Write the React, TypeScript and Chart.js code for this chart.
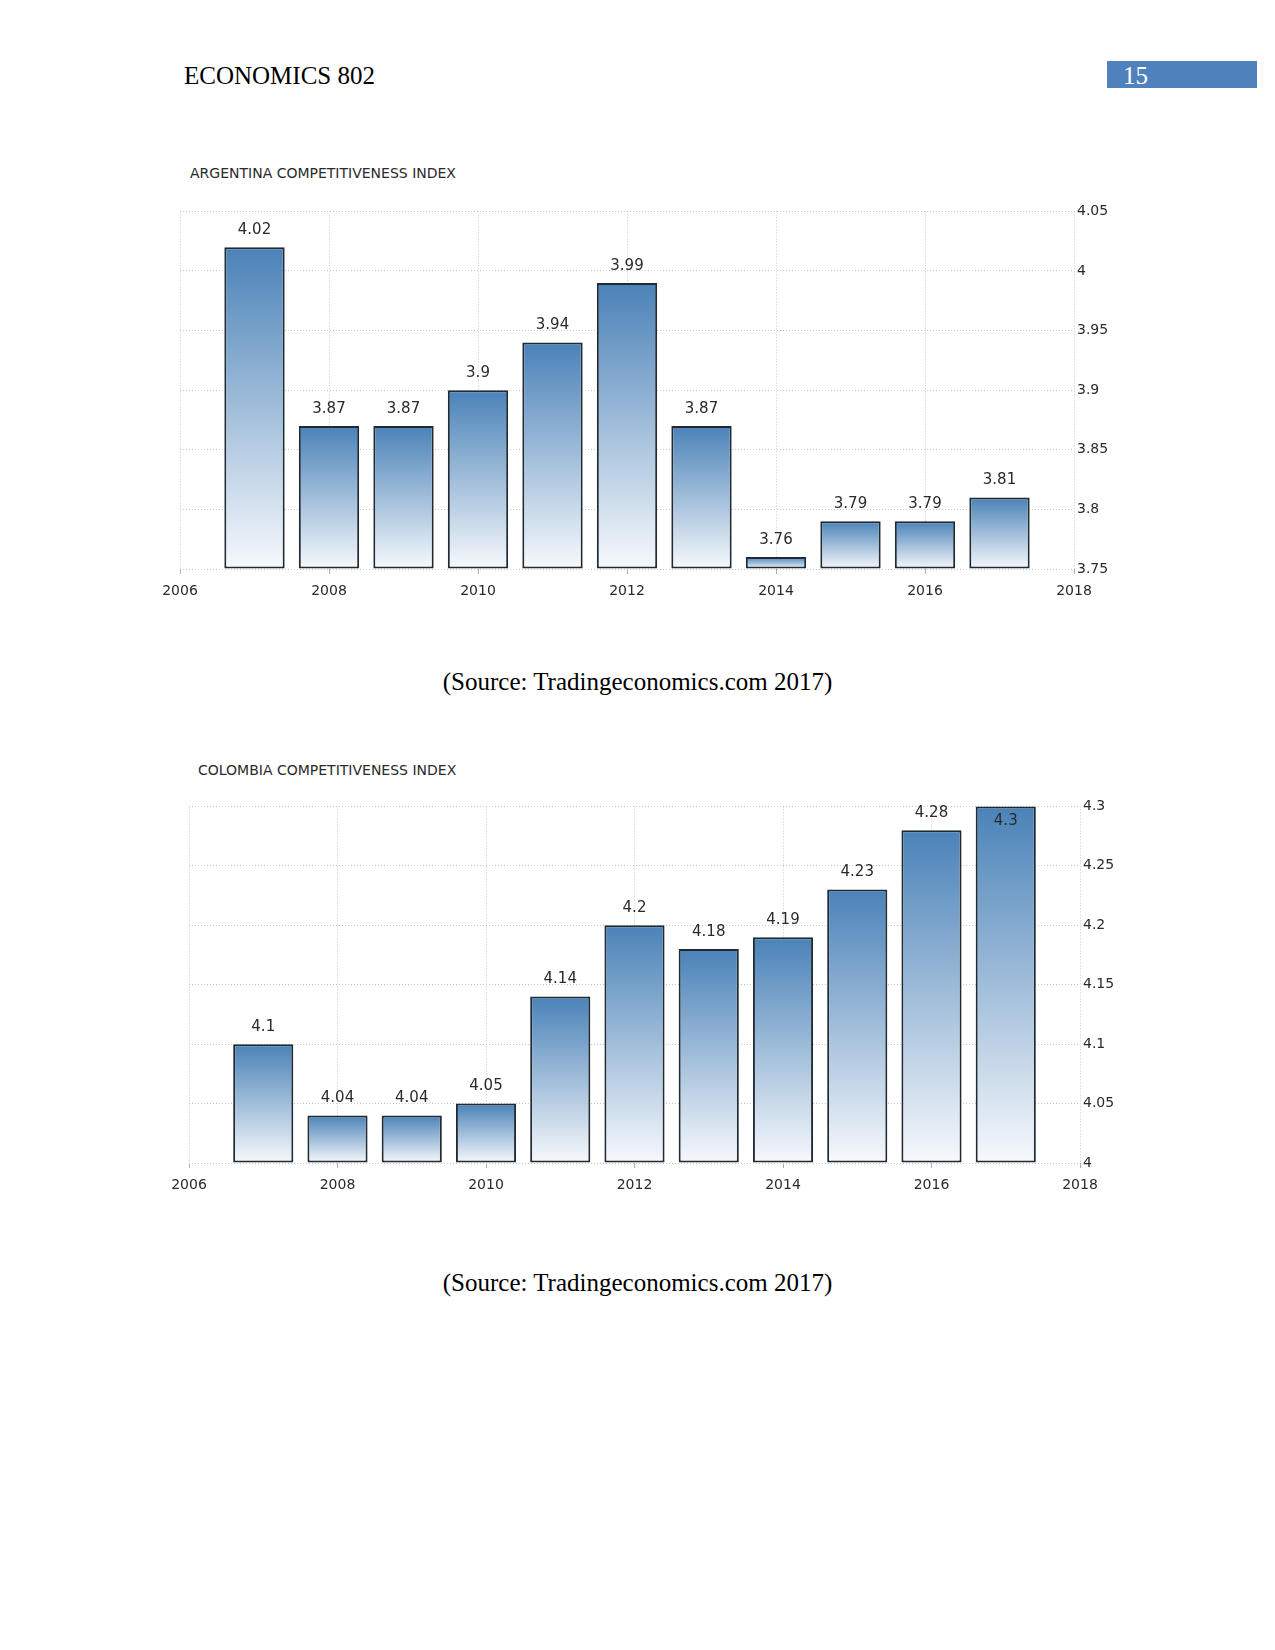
import React, { useEffect, useRef } from "react";
import { Chart, registerables } from "chart.js";

Chart.register(...registerables);

const years = [2007, 2008, 2009, 2010, 2011, 2012, 2013, 2014, 2015, 2016, 2017];
const argentinaValues = [4.02, 3.87, 3.87, 3.9, 3.94, 3.99, 3.87, 3.76, 3.79, 3.79, 3.81];
const colombiaValues = [4.1, 4.04, 4.04, 4.05, 4.14, 4.2, 4.18, 4.19, 4.23, 4.28, 4.3];
const xTickYears = [2006, 2008, 2010, 2012, 2014, 2016, 2018];
const argentinaYTicks = [3.75, 3.8, 3.85, 3.9, 3.95, 4, 4.05];
const colombiaYTicks = [4, 4.05, 4.1, 4.15, 4.2, 4.25, 4.3];

const FONT = "'DejaVu Sans', sans-serif";
const TEXT = "#2a2a2a";
const GRID = "#c8c8c8";

const valueLabels = {
  id: "valueLabels",
  afterDatasetsDraw(chart: any) {
    const { ctx, chartArea } = chart;
    const meta = chart.getDatasetMeta(0);
    const ds = chart.data.datasets[0];
    ctx.save();
    ctx.font = `15px ${FONT}`;
    ctx.fillStyle = TEXT;
    ctx.textAlign = "center";
    ctx.textBaseline = "middle";
    meta.data.forEach((el: any, i: number) => {
      const v = ds.data[i].y;
      const text = String(v);
      if (el.y - 17 < chartArea.top - 5) {
        ctx.fillText(text, el.x, el.y + 15);
      } else {
        ctx.fillText(text, el.x, el.y - 17);
      }
    });
    ctx.restore();
  },
};

function BarChart(props: {
  values: number[];
  yTicks: number[];
  width: number;
  height: number;
}) {
  const ref = useRef<HTMLCanvasElement>(null);
  useEffect(() => {
    if (!ref.current) return;
    const base = props.yTicks[0];
    const top = props.yTicks[props.yTicks.length - 1];
    const chart = new Chart(ref.current, {
      type: "bar",
      data: {
        datasets: [
          {
            data: years.map((yr, i) => ({ x: yr, y: props.values[i] })),
            base: base,
            borderColor: "#1f2a33",
            borderWidth: 2,
            borderSkipped: false,
            categoryPercentage: 0.9,
            barPercentage: 0.9,
            clip: 4,
            backgroundColor: (c: any) => {
              const ch = c.chart;
              const ys = ch.scales && ch.scales.y;
              if (!ys || c.type !== "data" || !c.raw) return "#4b83b9";
              const t = ys.getPixelForValue(c.raw.y);
              const b = ys.getPixelForValue(base);
              if (!isFinite(t) || !isFinite(b) || t === b) return "#4b83b9";
              const g = ch.ctx.createLinearGradient(0, t, 0, b);
              g.addColorStop(0, "#4a82b8");
              g.addColorStop(1, "#f7f9fc");
              return g;
            },
          } as any,
        ],
      },
      options: {
        animation: false,
        responsive: false,
        events: [],
        layout: { padding: { left: 31, top: 10, right: 0, bottom: 0 } },
        plugins: {
          legend: { display: false },
          tooltip: { enabled: false },
          title: { display: false },
        },
        scales: {
          x: {
            type: "linear",
            min: 2006,
            max: 2018,
            offset: false,
            afterBuildTicks: (s: any) => {
              s.ticks = xTickYears.map((v) => ({ value: v }));
            },
            afterFit: (s: any) => {
              s.height = 38;
            },
            grid: {
              offset: false,
              color: GRID,
              lineWidth: 1,
              tickLength: 5,
              tickColor: "#b0b0b0",
              tickBorderDash: [],
            },
            border: { display: false, dash: [1, 2] },
            ticks: {
              padding: 9,
              color: TEXT,
              font: { family: FONT, size: 14 },
              maxRotation: 0,
              callback: (v: any) => String(v),
            },
          },
          y: {
            position: "right",
            min: base,
            max: top,
            beginAtZero: false,
            afterBuildTicks: (s: any) => {
              s.ticks = props.yTicks.map((v) => ({ value: v }));
            },
            afterFit: (s: any) => {
              s.width = 55;
            },
            grid: { drawTicks: false, color: GRID, lineWidth: 1 },
            border: { display: false, dash: [1, 2] },
            ticks: {
              padding: 3,
              color: TEXT,
              font: { family: FONT, size: 14 },
              callback: (v: any) => String(v),
            },
          },
        } as any,
      },
      plugins: [valueLabels],
    } as any);
    return () => chart.destroy();
  }, []);
  return (
    <canvas
      ref={ref}
      width={props.width}
      height={props.height}
      style={{ display: "block", width: props.width, height: props.height }}
    />
  );
}

const serif = "'Liberation Serif', 'Times New Roman', serif";

export default function App() {
  return (
    <div
      style={{
        position: "absolute",
        left: 0,
        top: 0,
        width: 1275,
        height: 1650,
        background: "#ffffff",
        overflow: "hidden",
      }}
    >
      <div
        style={{
          position: "absolute",
          left: 184,
          top: 63,
          fontFamily: serif,
          fontSize: 25,
          lineHeight: "25px",
          color: "#000",
          whiteSpace: "nowrap",
        }}
      >
        ECONOMICS 802
      </div>
      <div
        style={{
          position: "absolute",
          left: 1107,
          top: 61,
          width: 150,
          height: 27,
          background: "#4f81bd",
        }}
      >
        <div
          style={{
            position: "absolute",
            left: 16,
            top: 2,
            fontFamily: serif,
            fontSize: 25,
            lineHeight: "25px",
            color: "#ffffff",
          }}
        >
          15
        </div>
      </div>

      <div
        style={{
          position: "absolute",
          left: 190,
          top: 166,
          fontFamily: FONT,
          fontSize: 14,
          lineHeight: "14px",
          color: TEXT,
          whiteSpace: "nowrap",
        }}
      >
        ARGENTINA COMPETITIVENESS INDEX
      </div>
      <div style={{ position: "absolute", left: 149, top: 200 }}>
        <BarChart values={argentinaValues} yTicks={argentinaYTicks} width={980} height={407} />
      </div>
      <div
        style={{
          position: "absolute",
          left: 0,
          width: 1275,
          top: 669,
          textAlign: "center",
          fontFamily: serif,
          fontSize: 25,
          lineHeight: "25px",
          color: "#000",
        }}
      >
        (Source: Tradingeconomics.com 2017)
      </div>

      <div
        style={{
          position: "absolute",
          left: 198,
          top: 763,
          fontFamily: FONT,
          fontSize: 14,
          lineHeight: "14px",
          color: TEXT,
          whiteSpace: "nowrap",
        }}
      >
        COLOMBIA COMPETITIVENESS INDEX
      </div>
      <div style={{ position: "absolute", left: 158, top: 795 }}>
        <BarChart values={colombiaValues} yTicks={colombiaYTicks} width={977} height={406} />
      </div>
      <div
        style={{
          position: "absolute",
          left: 0,
          width: 1275,
          top: 1270,
          textAlign: "center",
          fontFamily: serif,
          fontSize: 25,
          lineHeight: "25px",
          color: "#000",
        }}
      >
        (Source: Tradingeconomics.com 2017)
      </div>
    </div>
  );
}
